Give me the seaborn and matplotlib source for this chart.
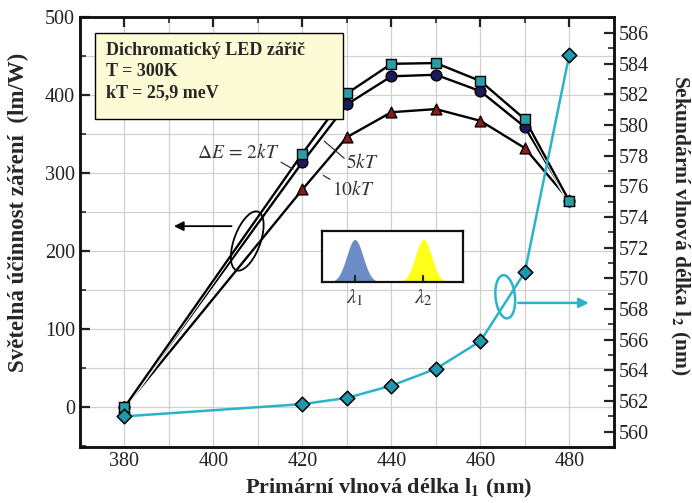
import numpy as np
import pandas as pd
import matplotlib
matplotlib.use('Agg')
import matplotlib.pyplot as plt
import matplotlib.patheffects as pe
from matplotlib.patches import Ellipse, Rectangle
from matplotlib.ticker import MultipleLocator
import seaborn as sns

# values
wavelength = [380, 420, 430, 440, 450, 460, 470, 480]
eff_2kT = [0, 325, 402, 440, 441, 418, 369, 264]
eff_5kT = [0, 314, 388, 424, 426, 405, 359, 264]
eff_10kT = [0, 279, 346, 378, 382, 367, 332, 265]
lambda2 = [561.0, 561.8, 562.2, 563.0, 564.1, 565.9, 570.4, 584.6]

x_ticks = [380, 400, 420, 440, 460, 480]
left_ticks = [0, 100, 200, 300, 400, 500]
right_ticks = list(range(560, 587, 2))

# inset spectrum peaks (schematic, axis fraction units)
peak_centers = [0.234, 0.72]
peak_colors = ['#6b8cc4', '#ffff1a']
peak_labels = [r'$\lambda_1$', r'$\lambda_2$']

sns.set_theme(style='white')
plt.rcParams['font.family'] = ['Liberation Serif', 'DejaVu Serif']
plt.rcParams['mathtext.fontset'] = 'stix'

df = pd.DataFrame({'wl': wavelength, '2kT': eff_2kT, '5kT': eff_5kT,
                   '10kT': eff_10kT, 'l2': lambda2})

fig = plt.figure(figsize=(6.92, 5.03), dpi=100)
ax = fig.add_axes([0.1156, 0.1113, 0.7714, 0.8549])

ax.set_xlim(370, 490)
ax.set_ylim(-51, 500)
ax.xaxis.set_major_locator(MultipleLocator(20))
ax.xaxis.set_minor_locator(MultipleLocator(10))
ax.yaxis.set_major_locator(MultipleLocator(100))
ax.yaxis.set_minor_locator(MultipleLocator(50))
ax.set_xticks(x_ticks)
ax.set_yticks(left_ticks)
ax.grid(which='both', color='#d0d0d0', lw=0.9)
ax.set_axisbelow(True)
ax.tick_params(which='major', direction='in', length=7, width=1.6, top=True, labelsize=14.5, colors='#222222')
ax.tick_params(which='minor', direction='in', length=4, width=1.2, top=True)
for s in ax.spines.values():
    s.set_linewidth(1.8)
    s.set_color('#111111')

stroke = [pe.withStroke(linewidth=3.0, foreground='white')]
series = [('10kT', '^', '#8a1c1c'), ('5kT', 'o', '#1b1b5c'), ('2kT', 's', '#2a9ea6')]
for col, mk, fc in series:
    sns.lineplot(data=df, x='wl', y=col, ax=ax, color='black', lw=1.7, zorder=3)
    ax.lines[-1].set_path_effects(stroke)
for col, mk, fc in series:
    sns.scatterplot(data=df, x='wl', y=col, ax=ax, marker=mk, color=fc,
                    edgecolor='black', linewidth=1.0, s=60, zorder=5)
ax.set_xlabel('')
ax.set_ylabel('')

# info box
ax.add_patch(Rectangle((0.028, 0.763), 0.464, 0.2, transform=ax.transAxes,
                       fc='#fdfbd5', ec='black', lw=1.0, zorder=6))
ax.text(0.049, 0.942, 'Dichromatický LED zářič\nT = 300K\nkT = 25,9 meV',
        transform=ax.transAxes, ha='left', va='top', fontsize=13, fontweight='bold',
        linespacing=1.32, zorder=7)

# curve labels
ax.text(405.5, 326, r'$\Delta E\,=\,2kT$', fontsize=14, ha='center', va='center', color='#333333', zorder=7)
ax.text(433.5, 314, r'$5kT$', fontsize=14, ha='center', va='center', color='#333333', zorder=7)
ax.text(431.5, 279, r'$10kT$', fontsize=14, ha='center', va='center', color='#333333', zorder=7)
ax.plot([415.2, 417.9], [314, 305], color='#333333', lw=0.9, zorder=6)
ax.plot([424.9, 429.4], [341, 319], color='#333333', lw=0.9, zorder=6)
ax.plot([424.7, 426.2], [297, 292], color='#333333', lw=0.9, zorder=6)

# ellipse + arrow for left axis
ax.add_patch(Ellipse((407.6, 213), 6.2, 76, angle=-3, fill=False, ec='black', lw=1.3, zorder=6))
ax.annotate('', xy=(390.5, 232), xytext=(404.7, 232),
            arrowprops=dict(arrowstyle='-|>', color='black', lw=1.3, mutation_scale=14), zorder=6)

# secondary axis
ax2 = ax.twinx()
ax2.set_ylim(559, 587.05)
ax2.yaxis.set_major_locator(MultipleLocator(2))
ax2.yaxis.set_minor_locator(MultipleLocator(1))
ax2.set_yticks(right_ticks)
ax2.tick_params(which='major', direction='in', length=7, width=1.6, labelsize=14.5, colors='#222222')
ax2.tick_params(which='minor', direction='in', length=4, width=1.2)
for s in ax2.spines.values():
    s.set_linewidth(1.8)
    s.set_color('#111111')
sns.lineplot(data=df, x='wl', y='l2', ax=ax2, color='#2bb3c9', lw=1.8, zorder=3)
sns.scatterplot(data=df, x='wl', y='l2', ax=ax2, marker='D', color='#1f98ad',
                edgecolor='black', linewidth=1.1, s=55, zorder=5)
ax2.set_xlabel('')
ax2.set_ylabel('')
ax2.add_patch(Ellipse((465.6, 568.8), 4.5, 2.75, angle=-10, fill=False, ec='#2bb3c9', lw=1.8, zorder=6))
ax2.annotate('', xy=(485, 568.4), xytext=(467.9, 568.4),
             arrowprops=dict(arrowstyle='-|>', color='#2bb3c9', lw=1.8, mutation_scale=14), zorder=6)

# axis labels
fig.text(18 / 692, 1 - 212 / 503, 'Světelná účinnost záření  (lm/W)', rotation=90,
         ha='center', va='center', fontsize=16.5, fontweight='bold')
fig.text(680 / 692, 1 - 225 / 503, r'Sekundární vlnová délka l$_\mathbf{2}$ (nm)', rotation=-90,
         ha='center', va='center', fontsize=15.5, fontweight='bold')
fig.text(389 / 692, 1 - 488 / 503, r'Primární vlnová délka l$_\mathbf{1}$ (nm)',
         ha='center', va='center', fontsize=16, fontweight='bold')

# inset spectrum
ins = fig.add_axes([0.465, 0.439, 0.204, 0.101])
ins.set_xlim(0, 1)
ins.set_ylim(0, 1)
xs = np.linspace(0, 1, 400)
for c, col, lab in zip(peak_centers, peak_colors, peak_labels):
    yy = 0.84 * np.exp(-0.5 * ((xs - c) / 0.058) ** 2)
    ins.fill_between(xs, 0, yy, color=col, lw=0)
    ins.plot([c, c], [0, 0.12], color='#222222', lw=1.6)
    ins.text(c, -0.1, lab, ha='center', va='top', fontsize=15, color='#333333')
ins.set_xticks([])
ins.set_yticks([])
for s in ins.spines.values():
    s.set_linewidth(1.6)
    s.set_color('#111111')

fig.savefig('out.png', dpi=100)
